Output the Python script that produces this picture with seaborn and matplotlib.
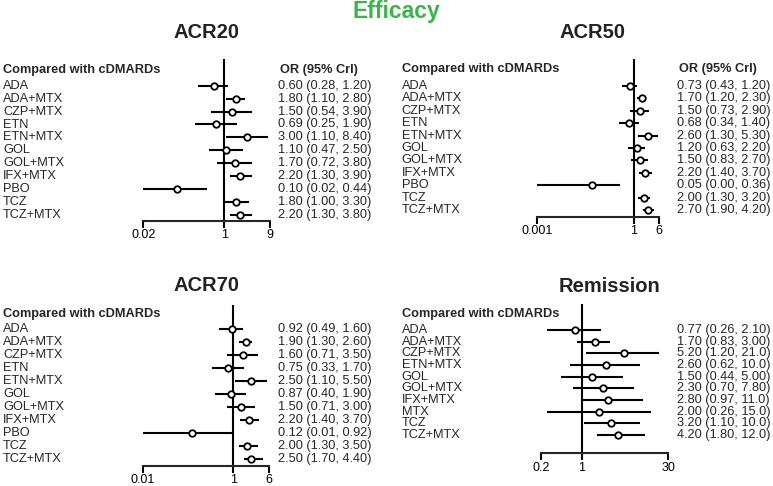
import numpy as np
import matplotlib
matplotlib.use('Agg')
import matplotlib.pyplot as plt
import matplotlib.ticker as mticker
from matplotlib.transforms import blended_transform_factory
import seaborn as sns

# Data (odds ratios with 95% credible intervals, compared with cDMARDs)
acr_treatments = ['ADA', 'ADA+MTX', 'CZP+MTX', 'ETN', 'ETN+MTX', 'GOL', 'GOL+MTX',
                  'IFX+MTX', 'PBO', 'TCZ', 'TCZ+MTX']

acr20_or = [0.60, 1.80, 1.50, 0.69, 3.00, 1.10, 1.70, 2.20, 0.10, 1.80, 2.20]
acr20_lo = [0.28, 1.10, 0.54, 0.25, 1.10, 0.47, 0.72, 1.30, 0.02, 1.00, 1.30]
acr20_hi = [1.20, 2.80, 3.90, 1.90, 8.40, 2.50, 3.80, 3.90, 0.44, 3.30, 3.80]

acr50_or = [0.73, 1.70, 1.50, 0.68, 2.60, 1.20, 1.50, 2.20, 0.05, 2.00, 2.70]
acr50_lo = [0.43, 1.20, 0.73, 0.34, 1.30, 0.63, 0.83, 1.40, 0.00, 1.30, 1.90]
acr50_hi = [1.20, 2.30, 2.90, 1.40, 5.30, 2.20, 2.70, 3.70, 0.36, 3.20, 4.20]

acr70_or = [0.92, 1.90, 1.60, 0.75, 2.50, 0.87, 1.50, 2.20, 0.12, 2.00, 2.50]
acr70_lo = [0.49, 1.30, 0.71, 0.33, 1.10, 0.40, 0.71, 1.40, 0.01, 1.30, 1.70]
acr70_hi = [1.60, 2.60, 3.50, 1.70, 5.50, 1.90, 3.00, 3.70, 0.92, 3.50, 4.40]

rem_treatments = ['ADA', 'ADA+MTX', 'CZP+MTX', 'ETN+MTX', 'GOL', 'GOL+MTX',
                  'IFX+MTX', 'MTX', 'TCZ', 'TCZ+MTX']
rem_or = [0.77, 1.70, 5.20, 2.60, 1.50, 2.30, 2.80, 2.00, 3.20, 4.20]
rem_lo = [0.26, 0.83, 1.20, 0.62, 0.44, 0.70, 0.97, 0.26, 1.10, 1.80]
rem_hi = [2.10, 3.00, 21.0, 10.0, 5.00, 7.80, 11.0, 15.0, 10.0, 12.0]

W, H = 773, 486

sns.set_style('white')
plt.rcParams['font.family'] = ['Liberation Sans', 'DejaVu Sans']

fig = plt.figure(figsize=(W / 100, H / 100), dpi=100)


def fmt(v):
    return '%.1f' % v if v >= 10 else '%.2f' % v


def panel(title, treatments, odds, lo, hi, ticks, tick_labels, lay):
    # lay: pixel layout of the panel
    xmin, xmax = ticks[0], ticks[-1]
    T, B = lay['top'], lay['axis']
    y0, dy = lay['row0'], lay['dy']
    ax = fig.add_axes([lay['x0'] / W, 1 - B / H, (lay['x1'] - lay['x0']) / W, (B - T) / H])
    n = len(treatments)
    idx = np.arange(n)
    df_lo = np.maximum(np.array(lo), xmin)
    ax.hlines(idx, df_lo, hi, color='black', lw=1.5, zorder=2)
    ax.axvline(1, color='black', lw=1.5, zorder=1)
    sns.scatterplot(x=odds, y=idx, ax=ax, marker='o', s=22, color='white',
                    edgecolor='black', linewidth=1.3, zorder=3, legend=False)
    ax.set_xscale('log')
    ax.set_xlim(xmin, xmax)
    ax.set_ylim((B - y0) / dy, (T - y0) / dy)
    ax.set_xticks(ticks)
    ax.set_xticklabels(tick_labels)
    ax.xaxis.set_minor_locator(mticker.NullLocator())
    ax.set_yticks([])
    for s in ['left', 'right', 'top']:
        ax.spines[s].set_visible(False)
    ax.spines['bottom'].set_linewidth(1.5)
    ax.tick_params(axis='x', direction='out', length=5, width=1.5, pad=1,
                   labelsize=9, bottom=True, colors='black')
    ax.set_xlabel('')
    ax.set_ylabel('')
    ax.patch.set_alpha(0)

    tr = blended_transform_factory(fig.transFigure, ax.transData)
    for i, name in enumerate(treatments):
        fig.text(lay['lab'] / W, i, name, transform=tr, fontsize=9.2, va='center', ha='left')
        fig.text(lay['val'] / W, i, '%s (%s, %s)' % (fmt(odds[i]), fmt(lo[i]), fmt(hi[i])),
                 transform=tr, fontsize=9.2, va='center', ha='left')
    fig.text(lay['lab'] / W, 1 - lay['head'] / H, 'Compared with cDMARDs',
             fontsize=9.2, fontweight='bold', va='center', ha='left')
    if lay.get('orhead'):
        fig.text(lay['orhead'] / W, 1 - lay['head'] / H, 'OR (95% CrI)',
                 fontsize=9.2, fontweight='bold', va='center', ha='left')
    fig.text(lay['tx'] / W, 1 - lay['ty'] / H, title, fontsize=14.5, fontweight='bold',
             color='#222222', va='center', ha='center')


panel('ACR20', acr_treatments, acr20_or, acr20_lo, acr20_hi, [0.02, 1, 9], ['0.02', '1', '9'],
      dict(x0=143.3, x1=269.5, top=59, axis=221, row0=85.8, dy=12.9, lab=3, val=277.7,
           head=69.8, orhead=280, tx=207, ty=33))
panel('ACR50', acr_treatments, acr50_or, acr50_lo, acr50_hi, [0.001, 1, 6], ['0.001', '1', '6'],
      dict(x0=536.7, x1=659.3, top=59.3, axis=216.7, row0=86, dy=12.4, lab=401.7, val=677.3,
           head=69.3, orhead=678.7, tx=592.7, ty=33))
panel('ACR70', acr_treatments, acr70_or, acr70_lo, acr70_hi, [0.01, 1, 6], ['0.01', '1', '6'],
      dict(x0=142.7, x1=268.7, top=305, axis=465.7, row0=329.3, dy=12.97, lab=3, val=277.7,
           head=314, tx=206, ty=285))
panel('Remission', rem_treatments, rem_or, rem_lo, rem_hi, [0.2, 1, 30], ['0.2', '1', '30'],
      dict(x0=540.7, x1=668.3, top=304, axis=453.3, row0=330, dy=11.67, lab=401.7, val=676.7,
           head=314, tx=610, ty=286))

fig.text(396 / W, 1 - 11.5 / H, 'Efficacy', fontsize=16.5, fontweight='bold',
         color='#3BB54A', va='center', ha='center')

fig.savefig('out.png', dpi=100)
plt.close(fig)
